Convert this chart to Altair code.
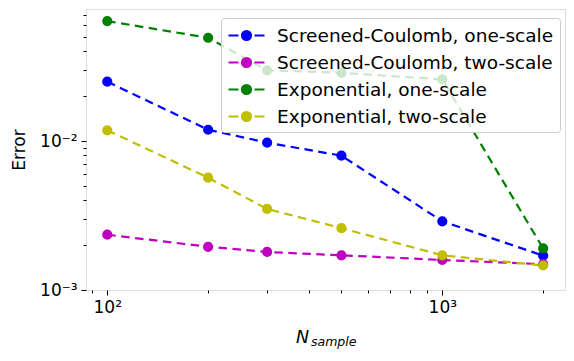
import altair as alt
import pandas as pd

# ---- data ----
n_sample = [100, 200, 300, 500, 1000, 2000]
series_names = [
    "Screened-Coulomb, one-scale",
    "Screened-Coulomb, two-scale",
    "Exponential, one-scale",
    "Exponential, two-scale",
]
sc_one = [0.0250, 0.0119, 0.00975, 0.00797, 0.00289, 0.00170]
sc_two = [0.00235, 0.00195, 0.00180, 0.00171, 0.00159, 0.00149]
exp_one = [0.0638, 0.0493, 0.0298, 0.0287, 0.0259, 0.00190]
exp_two = [0.0118, 0.00567, 0.00350, 0.00260, 0.00171, 0.00146]
colors = ["#0000ff", "#bf00bf", "#008000", "#bfbf00"]

x_ticks = [90, 100, 200, 300, 400, 500, 600, 700, 800, 900, 1000, 2000]
y_ticks = [0.001, 0.002, 0.003, 0.004, 0.005, 0.006, 0.007, 0.008, 0.009,
           0.01, 0.02, 0.03, 0.04, 0.05, 0.06, 0.07]

rows = []
for name, col, vals in zip(series_names, colors, [sc_one, sc_two, exp_one, exp_two]):
    for n, v in zip(n_sample, vals):
        rows.append({"nsample": n, "err": v, "series": name, "col": col})
df = pd.DataFrame(rows)

FONT = "DejaVu Sans"

# legend handle: dash - filled circle - dash (unit = 10px with symbolSize 400)
cx, r = 0.8, 0.45
handle_path = (
    "M -1 0 L 0 0 M 1.6 0 L 2.6 0 "
    f"M {cx + r} 0 A {r} {r} 0 1 1 {cx - r} 0 A {r} {r} 0 1 1 {cx + r} 0 Z"
)

xscale = alt.Scale(type="log", domain=[86.4, 2324], nice=False)
yscale = alt.Scale(type="log", domain=[0.001, 0.0769], nice=False)
cscale = alt.Scale(domain=series_names, range=colors)

xaxis = alt.Axis(
    values=x_ticks,
    labelExpr="datum.value == 100 ? '10²' : (datum.value == 1000 ? '10³' : '')",
    tickSize={"condition": {"test": "datum.value == 100 || datum.value == 1000", "value": 5}, "value": 3},
    tickColor="black", tickWidth=1, domain=False, grid=False, title=None,
    labelFont=FONT, labelFontSize=17, labelColor="black", labelPadding=4,
    labelOverlap=False, labelFlush=False,
)
yaxis = alt.Axis(
    values=y_ticks,
    labelExpr="datum.value == 0.001 ? '10⁻³' : (datum.value == 0.01 ? '10⁻²' : '')",
    tickSize={"condition": {"test": "datum.value == 0.001 || datum.value == 0.01", "value": 5}, "value": 3},
    tickColor="black", tickWidth=1, domain=False, grid=False, title="Error",
    labelFont=FONT, labelFontSize=17, labelColor="black", labelPadding=4,
    labelOverlap=False, labelFlush=False,
    titleFont=FONT, titleFontSize=17, titleFontWeight="normal", titleColor="black",
    titlePadding=11,
)

legend = alt.Legend(
    title=None, orient="none", legendX=135, legendY=9,
    symbolType=handle_path, symbolSize=400, symbolStrokeWidth=2.2,
    symbolStrokeColor=alt.ExprRef(expr="scale('fill', datum.value)"),
    labelFont=FONT, labelFontSize=18.5, labelColor="black", labelOffset=27,
    labelLimit=400, rowPadding=6, padding=6,
    strokeColor="#cccccc", fillColor="rgba(255,255,255,0.8)", cornerRadius=3,
    zindex=1,
)

base = alt.Chart(df)

lines = base.mark_line(strokeWidth=2.2, strokeDash=[8.5, 5.5]).encode(
    x=alt.X("nsample:Q", scale=xscale, axis=xaxis),
    y=alt.Y("err:Q", scale=yscale, axis=yaxis),
    stroke=alt.Stroke("col:N", scale=None),
    detail="series:N",
    order="nsample:Q",
)

points = base.mark_point(filled=True, size=104, opacity=1).encode(
    x=alt.X("nsample:Q", scale=xscale),
    y=alt.Y("err:Q", scale=yscale),
    fill=alt.Fill("series:N", scale=cscale, legend=legend),
)

title_n = alt.Chart(pd.DataFrame({"t": ["N"]})).mark_text(
    font=FONT, fontSize=17.5, fontStyle="italic", align="left", baseline="alphabetic", color="black"
).encode(x=alt.value(210), y=alt.value(334), text="t:N")

title_sub = alt.Chart(pd.DataFrame({"t": ["sample"]})).mark_text(
    font=FONT, fontSize=12.5, fontStyle="italic", align="left", baseline="alphabetic", color="black"
).encode(x=alt.value(225), y=alt.value(336.5), text="t:N")

chart = alt.layer(lines, points, title_n, title_sub).properties(
    width=479, height=281,
    autosize=alt.AutoSizeParams(type="none"),
    padding={"left": 78, "top": 1, "right": 1, "bottom": 68},
).configure_view(stroke="#222222", strokeWidth=1).configure(background="white")

chart.save("out.html", embed_options={"renderer": "svg", "actions": False})
